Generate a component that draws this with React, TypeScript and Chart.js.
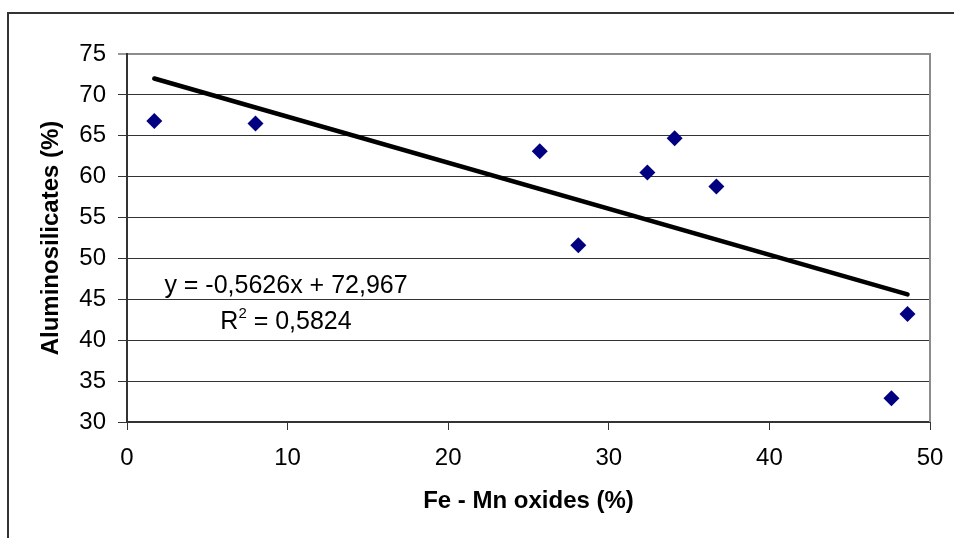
import { useEffect, useRef } from 'react';
import { Chart, registerables } from 'chart.js';

Chart.register(...registerables);

// ---- data ----
const feMnOxides = [1.7, 8.0, 25.7, 28.1, 32.4, 34.1, 36.7, 47.6, 48.6];
const aluminosilicates = [66.8, 66.5, 63.1, 51.6, 60.5, 64.7, 58.8, 32.9, 43.2];
const trendX = [1.7, 48.6];
const trendY = [72.0, 45.6];
const xTickValues = [0, 10, 20, 30, 40, 50];
const yTickValues = [30, 35, 40, 45, 50, 55, 60, 65, 70, 75];
const xTitle = 'Fe - Mn oxides (%)';
const yTitle = 'Aluminosilicates (%)';
const equationText = 'y = -0,5626x + 72,967';
const r2Main = 'R';
const r2Sup = '2';
const r2Rest = ' = 0,5824';

const FONT = "'Liberation Sans', Arial, Helvetica, sans-serif";

const decorPlugin = {
  id: 'decor',
  beforeDraw(chart: any) {
    const ctx = chart.ctx;
    ctx.save();
    ctx.strokeStyle = '#333333';
    ctx.lineWidth = 2;
    ctx.beginPath();
    ctx.moveTo(7, 13);
    ctx.lineTo(chart.width, 13);
    ctx.moveTo(8, 13);
    ctx.lineTo(8, chart.height);
    ctx.stroke();
    ctx.restore();
  },
  beforeDatasetsDraw(chart: any) {
    const { ctx, chartArea } = chart;
    ctx.save();
    ctx.strokeStyle = '#8c8c8c';
    ctx.lineWidth = 2;
    ctx.beginPath();
    ctx.moveTo(chartArea.right, chartArea.top - 1);
    ctx.lineTo(chartArea.right, chartArea.bottom);
    ctx.stroke();
    ctx.restore();
  },
  afterDatasetsDraw(chart: any) {
    const { ctx, chartArea } = chart;
    const cx = chartArea.left + 159;
    ctx.save();
    ctx.fillStyle = '#000000';
    ctx.textBaseline = 'alphabetic';
    ctx.textAlign = 'left';
    ctx.font = `25px ${FONT}`;
    const w1 = ctx.measureText(equationText).width;
    ctx.fillText(equationText, cx - w1 / 2, 293);
    const wR = ctx.measureText(r2Main).width;
    const wRest = ctx.measureText(r2Rest).width;
    ctx.font = `15px ${FONT}`;
    const wSup = ctx.measureText(r2Sup).width;
    const total = wR + wSup + wRest;
    let x = cx - total / 2;
    ctx.font = `25px ${FONT}`;
    ctx.fillText(r2Main, x, 329);
    x += wR;
    ctx.font = `15px ${FONT}`;
    ctx.fillText(r2Sup, x, 318);
    x += wSup;
    ctx.font = `25px ${FONT}`;
    ctx.fillText(r2Rest, x, 329);
    ctx.restore();
  },
};

export default function App() {
  const canvasRef = useRef<HTMLCanvasElement | null>(null);

  useEffect(() => {
    if (!canvasRef.current) return;
    const chart = new Chart(canvasRef.current, {
      type: 'scatter',
      data: {
        datasets: [
          {
            label: 'samples',
            data: feMnOxides.map((x, i) => ({ x, y: aluminosilicates[i] })),
            pointStyle: 'rectRot',
            pointRadius: 8,
            pointHoverRadius: 8,
            backgroundColor: '#000080',
            borderColor: '#000080',
            borderWidth: 0,
            showLine: false,
          },
          {
            label: 'trend',
            data: trendX.map((x, i) => ({ x, y: trendY[i] })),
            showLine: true,
            pointRadius: 0,
            borderColor: '#000000',
            borderWidth: 4.5,
            borderCapStyle: 'round',
            fill: false,
          },
        ],
      } as any,
      options: {
        responsive: false,
        animation: false,
        events: [],
        layout: { padding: { left: 0, top: 54, right: 24, bottom: 0 } },
        plugins: {
          legend: { display: false },
          tooltip: { enabled: false },
        },
        scales: {
          x: {
            type: 'linear',
            min: 0,
            max: 50,
            afterBuildTicks: (s: any) => {
              s.ticks = xTickValues.map((v) => ({ value: v }));
            },
            afterFit: (s: any) => {
              s.height = 116;
              s.paddingLeft = 0;
              s.paddingRight = 0;
            },
            grid: {
              drawOnChartArea: false,
              drawTicks: true,
              tickLength: 8,
              tickColor: '#333333',
              tickWidth: 1,
            },
            border: { color: '#333333', width: 2 },
            ticks: {
              color: '#000000',
              padding: 14,
              maxRotation: 0,
              font: { family: FONT, size: 24 },
            },
            title: {
              display: true,
              text: xTitle,
              color: '#000000',
              padding: { top: 4, bottom: 22 },
              font: { family: FONT, size: 24, weight: 'bold' },
            },
          },
          y: {
            type: 'linear',
            min: 30,
            max: 75,
            afterBuildTicks: (s: any) => {
              s.ticks = yTickValues.map((v) => ({ value: v }));
            },
            afterFit: (s: any) => {
              s.width = 127;
              s.paddingTop = 0;
              s.paddingBottom = 0;
            },
            grid: {
              drawOnChartArea: true,
              drawTicks: true,
              tickLength: 9,
              tickColor: '#333333',
              tickWidth: 1,
              color: (c: any) => (c.tick && c.tick.value === 75 ? '#8c8c8c' : '#333333'),
              lineWidth: (c: any) => (c.tick && c.tick.value === 75 ? 2 : 1),
            },
            border: { color: '#333333', width: 2 },
            ticks: {
              color: '#000000',
              padding: 12,
              font: { family: FONT, size: 24 },
            },
            title: {
              display: true,
              text: yTitle,
              color: '#000000',
              padding: { top: 37, bottom: 4 },
              font: { family: FONT, size: 24, weight: 'bold' },
            },
          },
        },
      } as any,
      plugins: [decorPlugin],
    });
    return () => chart.destroy();
  }, []);

  return (
    <div style={{ position: 'absolute', left: 0, top: 0, width: 954, height: 538, background: '#ffffff' }}>
      <canvas ref={canvasRef} width={954} height={538} style={{ display: 'block' }} />
    </div>
  );
}
